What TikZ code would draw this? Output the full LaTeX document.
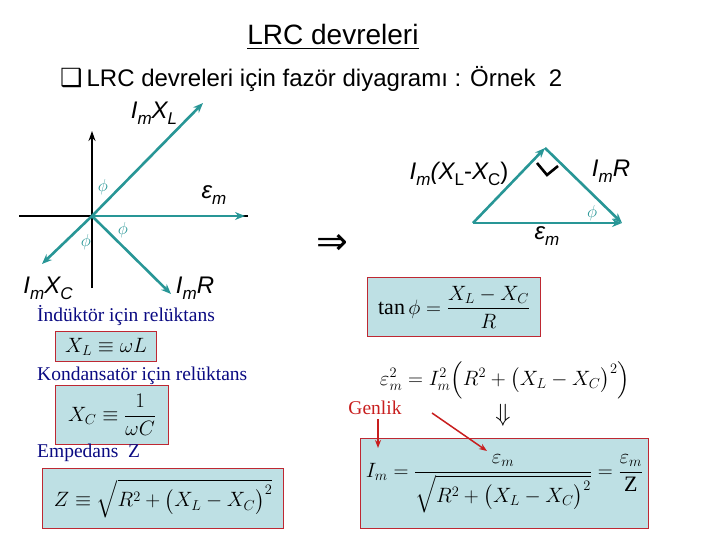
\documentclass[tikz,border=0pt]{standalone}
\usepackage{amsmath}
\usepackage{fontspec}
\setmainfont{Liberation Serif}
\setsansfont{Liberation Sans}
\newfontfamily\dejavu{DejaVu Sans}
\usetikzlibrary{arrows.meta}
\definecolor{teal1}{RGB}{40,150,150}
\definecolor{boxfill}{RGB}{190,224,228}
\definecolor{boxline}{RGB}{190,40,50}
\definecolor{navy1}{RGB}{10,10,130}
\definecolor{red1}{RGB}{200,30,30}
\newcommand{\lsub}[1]{\raisebox{-6pt}{\fontsize{17}{17}\selectfont #1}}
\tikzset{
 vec/.style={teal1, line width=2.6pt, -{Stealth[length=10pt,width=8pt]}},
 axisline/.style={black, line width=2.6pt},
 lbl/.style={font=\fontsize{24}{26}\sffamily\itshape, inner sep=0pt},
 phil/.style={teal1, font=\fontsize{16}{16}\selectfont, inner sep=0pt},
 eqbox/.style={draw=boxline, fill=boxfill, line width=1.2pt, inner sep=0pt},
 eqtxt/.style={font=\fontsize{22}{26}\selectfont, inner sep=0pt},
 navtxt/.style={navy1, font=\fontsize{19.5}{21}\selectfont, inner sep=0pt, anchor=west},
 redarr/.style={red1, line width=1.5pt, -{Stealth[length=8pt,width=6pt]}}
}
\begin{document}
\begin{tikzpicture}[x=1pt,y=-1pt]
\useasboundingbox (0,0) rectangle (720,540);
% title
\node[inner sep=0pt, font=\fontsize{28}{30}\sffamily] (title) at (333,37) {\underline{LRC devreleri}};
\node[inner sep=0pt, anchor=west, font=\fontsize{24}{26}\sffamily] (bullet) at (60,79) {{\dejavu\fontsize{25}{26}\selectfont ❑}\,LRC devreleri için fazör diyagramı : Örnek\ \ 2};
% phasor diagram
\coordinate (O) at (92,216);
\coordinate (axL) at (19,216);
\coordinate (axR) at (248,216);
\coordinate (axB) at (92,288);
\coordinate (axT) at (92,131);
\coordinate (XL) at (203,103);
\coordinate (EM) at (245,216);
\coordinate (XC) at (42,264);
\coordinate (RR) at (171,294);
\draw[axisline] (axL) -- (axR);
\draw[axisline, -{Stealth[length=10pt,width=7pt]}] (axB) -- (axT);
\draw[vec] (O) -- (XL);
\draw[vec] (O) -- (EM);
\draw[vec] (O) -- (XC);
\draw[vec] (O) -- (RR);
\node[lbl] (lxl) at (154,113) {I\lsub{m}X\lsub{L}};
\node[lbl] (lem) at (214,195) {ε\lsub{m}};
\node[lbl] (lxc) at (48,288) {I\lsub{m}X\lsub{C}};
\node[lbl] (lr) at (195,288) {I\lsub{m}R};
\node[phil] (p1) at (103,187) {$\phi$};
\node[phil] (p2) at (86,242) {$\phi$};
\node[phil] (p3) at (123,230) {$\phi$};
% implies
\node[inner sep=0pt, font=\fontsize{38}{38}\dejavu] (impl) at (332,244) {⇒};
% triangle
\coordinate (TA) at (473,223);
\coordinate (TB) at (545,148);
\coordinate (TC) at (622,223);
\draw[vec] (TA) -- (TB);
\draw[vec] (TB) -- (TC);
\draw[vec] (TA) -- (TC);
\coordinate (ra1) at (537,163);
\coordinate (ra2) at (547,175);
\coordinate (ra3) at (558,166);
\draw[black, line width=2.6pt] (ra1) -- (ra2) -- (ra3);
\node[lbl] (txc) at (459,174) {I\lsub{m}(X\lsub{\upshape L}\upshape -\itshape X\lsub{\upshape C}\upshape )};
\node[lbl] (tr) at (611,171) {I\lsub{m}R};
\node[lbl] (tem) at (547,236) {ε\lsub{m}};
\node[phil] (tp) at (592,213) {$\phi$};
% left texts and boxes
\node[navtxt] (t1) at (37,316) {İndüktör için relüktans};
\node[eqbox, minimum width=101pt, minimum height=30pt, anchor=north west] (b1) at (55,331) {};
\node[eqtxt] (e1) at (b1.center) {$X_L \equiv \omega L$};
\node[navtxt] (t2) at (37,376) {Kondansatör için relüktans};
\node[eqbox, minimum width=113pt, minimum height=59pt, anchor=north west] (b2) at (55,385) {};
\node[eqtxt] (e2) at (b2.center) {$X_C \equiv \dfrac{1}{\omega C}$};
\node[navtxt] (t3) at (37,453) {Empedans\ \ Z};
\node[eqbox, minimum width=241pt, minimum height=60pt, anchor=north west] (b3) at (42,468) {};
\node[eqtxt] (e3) at (b3.center) {$Z \equiv \sqrt{R^2+\bigl(X_L-X_C\bigr)^2}$};
% right boxes
\node[eqbox, minimum width=173pt, minimum height=59pt, anchor=north west] (b4) at (367,277) {};
\node[eqtxt] (e4) at (b4.center) {$\tan\phi = \dfrac{X_L-X_C}{R}$};
\node[eqtxt] (e5) at (505,380) {$\varepsilon_m^2 = I_m^2\Bigl(R^2+\bigl(X_L-X_C\bigr)^2\Bigr)$};
\node[inner sep=0pt, font=\fontsize{30}{30}\selectfont] (down) at (503,415) {$\Downarrow$};
\node[inner sep=0pt, red1, font=\fontsize{19.5}{21}\selectfont] (gen) at (375,408) {Genlik};
\node[eqbox, minimum width=288pt, minimum height=90pt, anchor=north west] (b5) at (360,438) {};
\node[eqtxt] (e6) at (b5.center) {$I_m = \dfrac{\varepsilon_m}{\sqrt{R^2+\bigl(X_L-X_C\bigr)^2}} = \dfrac{\varepsilon_m}{\textrm{Z}}$};
\coordinate (g1) at (378,419);
\coordinate (g1e) at (378,448);
\coordinate (g2) at (432,413);
\coordinate (g2e) at (487,451);
\draw[redarr] (g1) -- (g1e);
\draw[redarr] (g2) -- (g2e);
\end{tikzpicture}
\end{document}
